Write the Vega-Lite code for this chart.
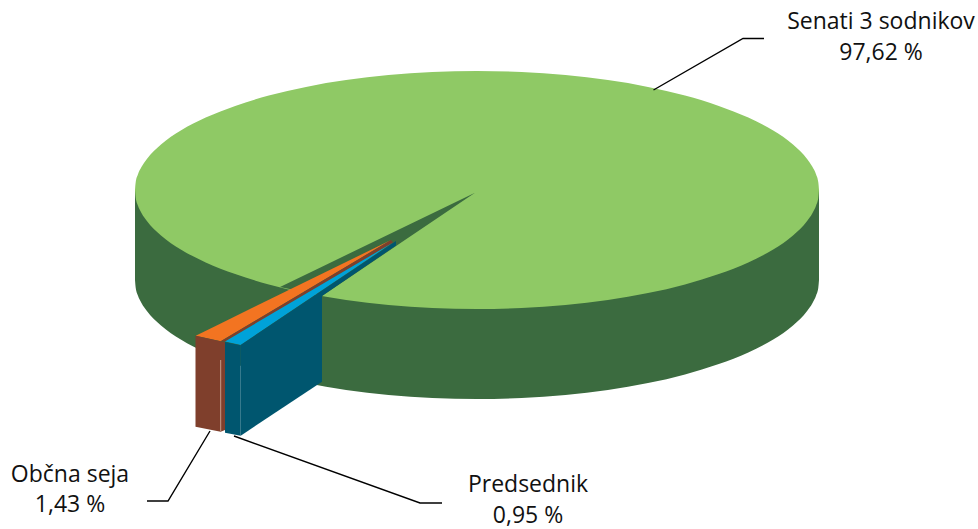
{"$schema":"https://vega.github.io/schema/vega-lite/v6.json","width":978,"height":529,"padding":0,"autosize":{"type":"fit","contains":"padding"},"background":"white","config":{"view":{"stroke":null}},
"datasets":{
"curved":[
{"part":"side","x":135,"y":190,"y2":280},{"part":"side","x":135.7,"y":190,"y2":287.8},{"part":"side","x":137.9,"y":190,"y2":295.5},{"part":"side","x":141.6,"y":190,"y2":303.2},{"part":"side","x":146.7,"y":190,"y2":310.8},{"part":"side","x":161,"y":190,"y2":325.5},{"part":"side","x":180.8,"y":190,"y2":339.5},{"part":"side","x":205.7,"y":190,"y2":352.4},{"part":"side","x":235.2,"y":190,"y2":364.1},{"part":"side","x":268.8,"y":190,"y2":374.4},{"part":"side","x":306,"y":190,"y2":383.1},{"part":"side","x":346.1,"y":190,"y2":389.9},{"part":"side","x":388.5,"y":190,"y2":394.9},{"part":"side","x":432.4,"y":190,"y2":398},{"part":"side","x":477,"y":190,"y2":399},{"part":"side","x":521.6,"y":190,"y2":398},{"part":"side","x":565.5,"y":190,"y2":394.9},{"part":"side","x":607.9,"y":190,"y2":389.9},{"part":"side","x":648,"y":190,"y2":383.1},{"part":"side","x":685,"y":190,"y2":374.4},{"part":"side","x":718.8,"y":190,"y2":364.1},{"part":"side","x":748.3,"y":190,"y2":352.4},{"part":"side","x":773.2,"y":190,"y2":339.5},{"part":"side","x":793,"y":190,"y2":325.5},{"part":"side","x":807.3,"y":190,"y2":310.8},{"part":"side","x":812.4,"y":190,"y2":303.2},{"part":"side","x":816.1,"y":190,"y2":295.5},{"part":"side","x":818.3,"y":190,"y2":287.8},{"part":"side","x":819,"y":190,"y2":280},
{"part":"top","x":135,"y":190,"y2":190},{"part":"top","x":135.7,"y":182.2,"y2":197.8},{"part":"top","x":137.9,"y":174.5,"y2":205.5},{"part":"top","x":141.6,"y":166.8,"y2":213.2},{"part":"top","x":146.7,"y":159.2,"y2":220.8},{"part":"top","x":161,"y":144.5,"y2":235.5},{"part":"top","x":180.8,"y":130.5,"y2":249.5},{"part":"top","x":205.7,"y":117.6,"y2":262.4},{"part":"top","x":235.2,"y":105.9,"y2":274.1},{"part":"top","x":268.8,"y":95.6,"y2":284.4},{"part":"top","x":306,"y":86.9,"y2":293.1},{"part":"top","x":346.1,"y":80.1,"y2":299.9},{"part":"top","x":388.5,"y":75.1,"y2":304.9},{"part":"top","x":432.4,"y":72,"y2":308},{"part":"top","x":477,"y":71,"y2":309},{"part":"top","x":521.6,"y":72,"y2":308},{"part":"top","x":565.5,"y":75.1,"y2":304.9},{"part":"top","x":607.9,"y":80.1,"y2":299.9},{"part":"top","x":648,"y":86.9,"y2":293.1},{"part":"top","x":685,"y":95.6,"y2":284.4},{"part":"top","x":718.8,"y":105.9,"y2":274.1},{"part":"top","x":748.3,"y":117.6,"y2":262.4},{"part":"top","x":773.2,"y":130.5,"y2":249.5},{"part":"top","x":793,"y":144.5,"y2":235.5},{"part":"top","x":807.3,"y":159.2,"y2":220.8},{"part":"top","x":812.4,"y":166.8,"y2":213.2},{"part":"top","x":816.1,"y":174.5,"y2":205.5},{"part":"top","x":818.3,"y":182.2,"y2":197.8},{"part":"top","x":819,"y":190,"y2":190}],
"flat":[
{"part":"notch","x":280,"y":287,"y2":287},{"part":"notch","x":322,"y":266.7,"y2":296},{"part":"notch","x":475,"y":192.7,"y2":192.7},
{"part":"orangeTop","x":195.7,"y":335.7,"y2":335.7},{"part":"orangeTop","x":220.7,"y":323.4,"y2":341.3},{"part":"orangeTop","x":391,"y":240,"y2":240},
{"part":"brownStrip","x":220.7,"y":341.3,"y2":341.3},{"part":"brownStrip","x":225,"y":338.7,"y2":341.5},{"part":"brownStrip","x":391,"y":240,"y2":243.7},{"part":"brownStrip","x":393,"y":242.5,"y2":242.5},
{"part":"blueTop","x":225,"y":341.5,"y2":341.5},{"part":"blueTop","x":240.7,"y":332.2,"y2":345},{"part":"blueTop","x":393,"y":242.5,"y2":242.5},
{"part":"wallA","x":240.7,"y":345,"y2":435.7},{"part":"wallA","x":322,"y":290.6,"y2":381.7},
{"part":"wallB","x":322,"y":290.6,"y2":296},{"part":"wallB","x":396,"y":241,"y2":245.5},
{"part":"brownFront","x":195.5,"y":335.7,"y2":426.7},{"part":"brownFront","x":220.7,"y":341.3,"y2":431.7},{"part":"brownFront","x":225,"y":342.3,"y2":430},
{"part":"blueFront","x":225,"y":342,"y2":432.7},{"part":"blueFront","x":240.7,"y":345.3,"y2":435.7}],
"leaders":[
{"name":"Senati 3 sodnikov","i":0,"x":653.5,"y":90},{"name":"Senati 3 sodnikov","i":1,"x":743,"y":38.5},{"name":"Senati 3 sodnikov","i":2,"x":764,"y":38.5},
{"name":"Občna seja","i":0,"x":210,"y":431},{"name":"Občna seja","i":1,"x":168,"y":501},{"name":"Občna seja","i":2,"x":147,"y":501},
{"name":"Predsednik","i":0,"x":234,"y":436},{"name":"Predsednik","i":1,"x":420,"y":503},{"name":"Predsednik","i":2,"x":442,"y":503}],
"labels":[
{"text":"Senati 3 sodnikov","x":881,"y":22},{"text":"97,62 %","x":881,"y":53},
{"text":"Občna seja","x":70,"y":475},{"text":"1,43 %","x":70,"y":505},
{"text":"Predsednik","x":528,"y":485},{"text":"0,95 %","x":528,"y":516}],
"seam":[{"x":220.7,"y":360,"y2":431}]},
"encoding":{"x":{"field":"x","type":"quantitative","axis":null,"scale":{"domain":[0,978],"nice":false,"zero":false}},"y":{"field":"y","type":"quantitative","axis":null,"scale":{"domain":[529,0],"nice":false,"zero":false}}},
"layer":[
{"data":{"name":"curved"},"mark":{"type":"area","interpolate":"monotone"},"encoding":{"y2":{"field":"y2"},"color":{"field":"part","type":"nominal","legend":null,"scale":{"domain":["side","top","notch","orangeTop","brownStrip","blueTop","wallA","wallB","brownFront","blueFront"],"range":["#3b6b3f","#8fc965","#3b6b3f","#f37421","#7f3f2c","#00a2d9","#00566f","#00566f","#7f3f2c","#00566f"]}}}},
{"data":{"name":"flat"},"mark":{"type":"area","interpolate":"linear"},"encoding":{"y2":{"field":"y2"},"color":{"field":"part","type":"nominal","legend":null}}},
{"data":{"name":"seam"},"mark":{"type":"rule","color":"#c79a88","strokeWidth":1},"encoding":{"y2":{"field":"y2"}}},
{"data":{"name":"leaders"},"mark":{"type":"line","color":"#000000","strokeWidth":1.4},"encoding":{"detail":{"field":"name"},"order":{"field":"i","type":"ordinal"}}},
{"data":{"name":"labels"},"mark":{"type":"text","font":"Open Sans","fontSize":23,"color":"#111111","align":"center","baseline":"middle"},"encoding":{"text":{"field":"text"}}}
]}
